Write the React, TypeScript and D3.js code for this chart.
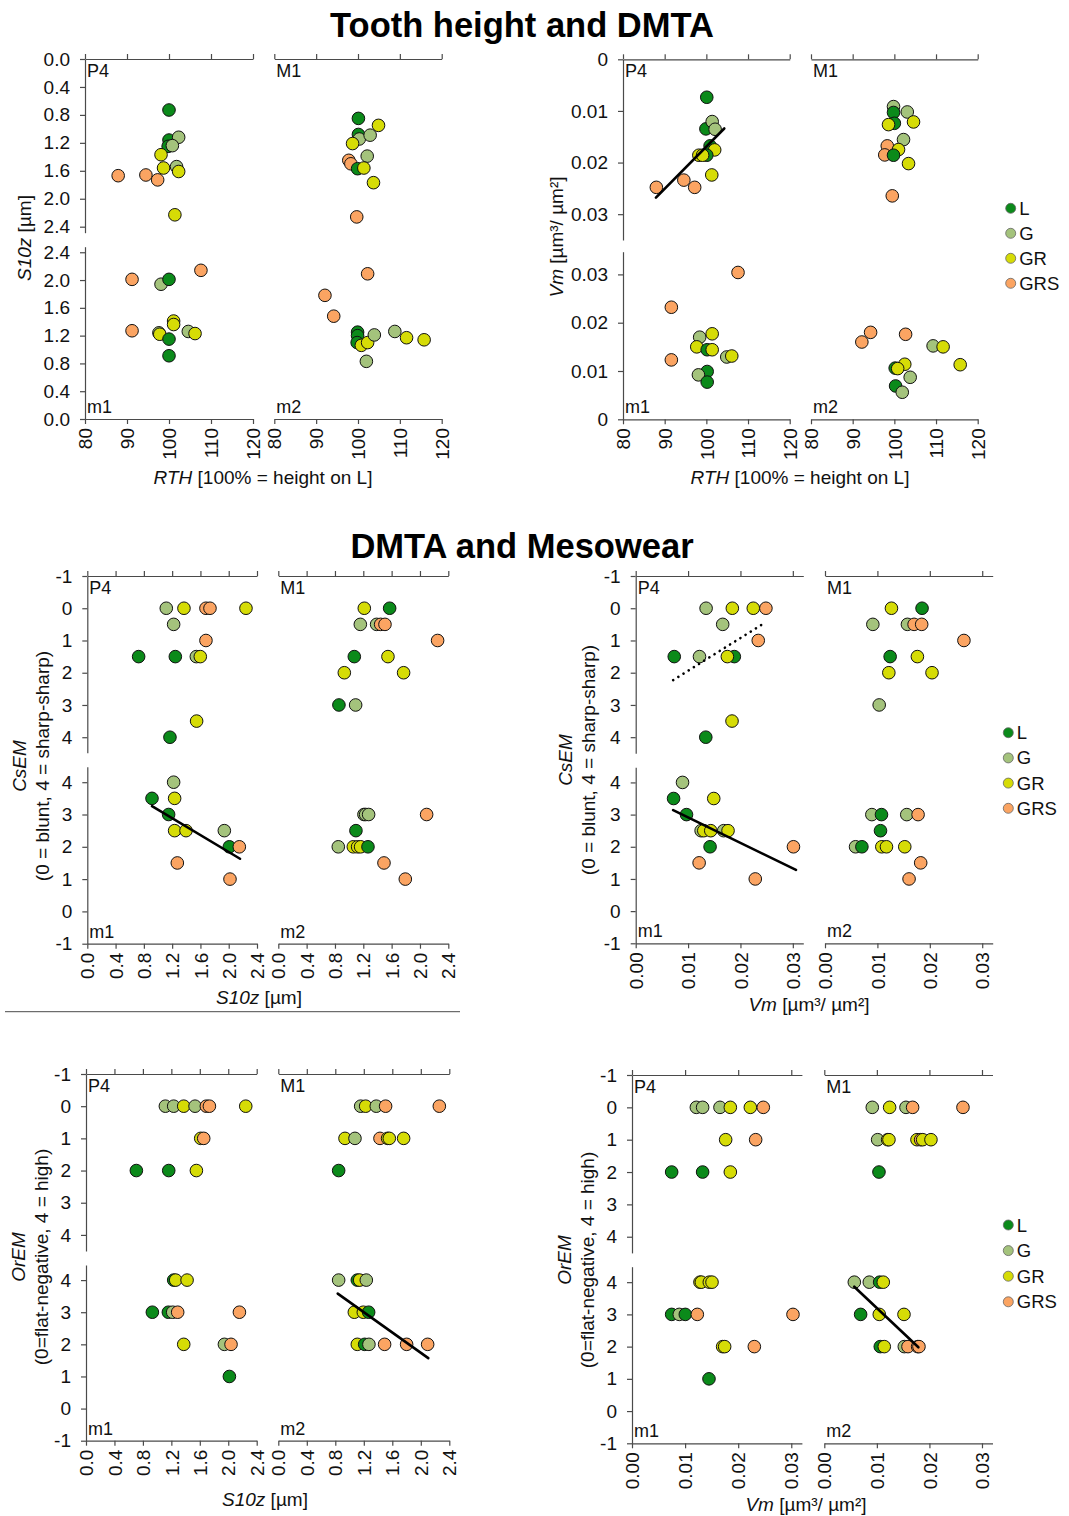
import React, { useEffect, useRef } from "react";
import * as d3 from "d3";

type Pt = [string, number, number];

const FONT = "'Liberation Sans', Arial, Helvetica, sans-serif";

const groups = ["L", "G", "GR", "GRS"];
const groupColors = ["#0b8a1a", "#a4c37c", "#d6dc06", "#fba462"];

const rthTicks = [80, 90, 100, 110, 120];
const s10zTicks = [0, 0.4, 0.8, 1.2, 1.6, 2.0, 2.4];
const vmTicks = [0, 0.01, 0.02, 0.03];
const scoreTicks = [-1, 0, 1, 2, 3, 4];

// RTH vs S10z
const rthS10zP4: Pt[] = [["L",100.0,0.73],["L",100.0,1.16],["L",99.8,1.25],["G",102.3,1.12],["G",100.8,1.24],["G",101.8,1.54],["GR",98.1,1.37],["GR",98.7,1.56],["GR",102.3,1.61],["GR",101.4,2.23],["GRS",87.9,1.67],["GRS",94.5,1.66],["GRS",97.3,1.73]];
const rthS10zM1: Pt[] = [["L",100.1,0.85],["L",100.1,1.08],["G",100.3,1.145],["G",102.9,1.09],["GR",104.9,0.95],["GR",98.7,1.21],["G",102.2,1.39],["GRS",97.8,1.45],["GRS",98.3,1.5],["L",99.9,1.57],["GR",101.4,1.56],["GR",103.7,1.77],["GRS",99.7,2.26]];
const rthS10zm1: Pt[] = [["GRS",91.2,2.01],["GRS",91.2,1.27],["G",98.1,1.94],["L",100.0,2.01],["GRS",107.6,2.14],["G",97.6,1.24],["GR",97.8,1.22],["GR",101.1,1.41],["GR",101.1,1.36],["L",100.0,1.15],["L",100.0,0.91],["G",104.6,1.26],["GR",106.2,1.23]];
const rthS10zm2: Pt[] = [["GRS",92.1,1.78],["GRS",94.2,1.48],["GRS",102.3,2.09],["L",99.9,1.25],["L",99.9,1.2],["L",99.8,1.1],["GR",100.8,1.06],["GR",102.3,1.1],["G",103.9,1.21],["G",108.8,1.26],["GR",111.6,1.17],["GR",115.8,1.14],["G",102.0,0.83]];

// RTH vs Vm
const rthVmP4: Pt[] = [["L",100.1,0.00735],["L",99.9,0.01348],["G",101.4,0.01206],["G",102.1,0.01355],["L",100.9,0.01677],["GR",102.0,0.01755],["L",100.1,0.01858],["GR",98.2,0.01858],["GR",99.1,0.01858],["GR",101.3,0.0224],["GRS",88.0,0.0248],["GRS",94.6,0.0234],["GRS",97.2,0.0248]];
const rthVmM1: Pt[] = [["G",99.8,0.00916],["L",99.8,0.0103],["G",103.1,0.0102],["L",100.0,0.0124],["GR",98.6,0.01265],["GR",104.6,0.01213],["G",102.2,0.01555],["GRS",98.3,0.01677],["GR",101.0,0.01748],["GRS",97.7,0.01852],["L",99.8,0.01858],["GR",103.4,0.0202],["GRS",99.5,0.02645]];
const rthVmm1: Pt[] = [["GRS",107.6,0.0304],["GRS",91.6,0.0232],["GRS",91.6,0.0123],["G",98.4,0.017],["GR",101.4,0.0177],["GR",97.7,0.015],["L",100.2,0.0144],["GR",101.4,0.0144],["G",104.9,0.0129],["GR",106.1,0.0131],["L",100.2,0.0099],["G",98.1,0.0092],["L",100.2,0.0077]];
const rthVmm2: Pt[] = [["GRS",92.2,0.016],["GRS",94.3,0.018],["GRS",102.7,0.0176],["G",109.3,0.0152],["GR",111.7,0.015],["GR",115.8,0.0113],["GR",102.5,0.0114],["L",100.2,0.0106],["GR",100.8,0.0105],["G",103.8,0.0087],["L",100.3,0.0069],["G",101.9,0.0056]];

// S10z vs CsEM
const s10zCsP4: Pt[] = [["G",1.117,0],["GR",1.367,0],["GRS",1.678,0],["GRS",1.735,0],["GR",2.244,0],["G",1.221,0.5],["GRS",1.678,1],["L",0.726,1.5],["L",1.245,1.5],["G",1.542,1.5],["GR",1.598,1.5],["GR",1.546,3.5],["L",1.169,4]];
const s10zCsM1: Pt[] = [["GR",1.214,0],["L",1.572,0],["G",1.158,0.5],["G",1.388,0.5],["GRS",1.445,0.5],["GRS",1.506,0.5],["GRS",2.249,1],["L",1.073,1.5],["GR",1.548,1.5],["GR",0.932,2],["GR",1.769,2],["L",0.856,3],["G",1.092,3]];
const s10zCsm1: Pt[] = [["G",1.221,4],["L",0.915,3.5],["GR",1.235,3.5],["L",1.15,3],["GR",1.235,2.5],["GR",1.396,2.5],["G",1.938,2.5],["L",2.009,2],["GRS",2.15,2],["GRS",1.273,1.5],["GRS",2.018,1]];
const s10zCsm2: Pt[] = [["G",1.209,3],["G",1.233,3],["G",1.275,3],["GRS",2.094,3],["L",1.096,2.5],["G",0.847,2],["GR",1.059,2],["GR",1.12,2],["GR",1.162,2],["L",1.266,2],["GRS",1.492,1.5],["GRS",1.793,1]];

// Vm vs CsEM
const vmCsP4: Pt[] = [["G",0.01344,0],["GR",0.01845,0],["GR",0.02245,0],["GRS",0.02486,0],["G",0.01661,0.5],["GRS",0.0234,1],["L",0.00736,1.5],["G",0.01218,1.5],["L",0.01883,1.5],["GR",0.0175,1.5],["GR",0.01839,3.5],["L",0.01338,4]];
const vmCsM1: Pt[] = [["GR",0.01268,0],["L",0.01852,0],["G",0.00913,0.5],["G",0.01573,0.5],["GRS",0.017,0.5],["GRS",0.01845,0.5],["GRS",0.02651,1],["L",0.01243,1.5],["GR",0.01763,1.5],["GR",0.01218,2],["GR",0.02042,2],["G",0.01034,3]];
const vmCsm1: Pt[] = [["G",0.00894,4],["L",0.00723,3.5],["GR",0.0149,3.5],["L",0.0097,3],["G",0.01249,2.5],["GR",0.013,2.5],["GR",0.01433,2.5],["G",0.0168,2.5],["GR",0.01763,2.5],["L",0.0142,2],["GRS",0.03012,2],["GRS",0.01211,1.5],["GRS",0.02283,1]];
const vmCsm2: Pt[] = [["G",0.00894,3],["L",0.01078,3],["G",0.0156,3],["GRS",0.01776,3],["L",0.01059,2.5],["G",0.00583,2],["L",0.00704,2],["GR",0.01084,2],["GR",0.01173,2],["GR",0.01522,2],["GRS",0.01826,1.5],["GRS",0.01604,1]];

// S10z vs OrEM
const s10zOrP4: Pt[] = [["G",1.116,0],["G",1.233,0],["GR",1.374,0],["G",1.533,0],["GRS",1.692,0],["GRS",1.735,0],["GR",2.246,0],["GR",1.613,1],["GRS",1.655,1],["L",0.708,2],["L",1.163,2],["GR",1.552,2]];
const s10zOrM1: Pt[] = [["G",1.156,0],["GR",1.226,0],["G",1.375,0],["GRS",1.506,0],["GRS",2.26,0],["GR",0.936,1],["G",1.076,1],["GRS",1.427,1],["GR",1.534,1],["GR",1.558,1],["GR",1.759,1],["L",0.847,2]];
const s10zOrm1: Pt[] = [["L",1.233,4],["GR",1.261,4],["GR",1.421,4],["L",0.933,3],["L",1.158,3],["G",1.219,3],["GRS",1.289,3],["GRS",2.157,3],["GR",1.374,2],["G",1.946,2],["GRS",2.039,2],["L",2.016,1]];
const s10zOrm2: Pt[] = [["G",0.847,4],["L",1.109,4],["GR",1.142,4],["G",1.235,4],["GR",1.067,3],["GR",1.193,3],["L",1.268,3],["GR",1.109,2],["L",1.212,2],["G",1.272,2],["GRS",1.492,2],["GRS",1.801,2],["GRS",2.096,2]];

// Vm vs OrEM
const vmOrP4: Pt[] = [["G",0.01212,0],["G",0.0133,0],["G",0.01657,0],["GR",0.01852,0],["GR",0.02229,0],["GRS",0.02473,0],["GR",0.01764,1],["GRS",0.02329,1],["L",0.00747,2],["L",0.0133,2],["GR",0.01852,2]];
const vmOrM1: Pt[] = [["G",0.00913,0],["GR",0.01243,0],["G",0.01554,0],["GRS",0.0168,0],["GRS",0.02638,0],["G",0.01015,1],["GR",0.01205,1],["GR",0.0123,1],["GR",0.01763,1],["GRS",0.01833,1],["GR",0.01871,1],["GR",0.02029,1],["L",0.0104,2]];
const vmOrm1: Pt[] = [["GR",0.0128,4],["GR",0.01306,4],["GR",0.01456,4],["GR",0.01507,4],["L",0.00747,3],["G",0.00891,3],["L",0.01004,3],["GRS",0.0123,3],["GRS",0.03032,3],["GR",0.01707,2],["GR",0.01745,2],["GRS",0.02304,2],["L",0.0145,1]];
const vmOrm2: Pt[] = [["G",0.00571,4],["G",0.00856,4],["L",0.01053,4],["GR",0.01122,4],["L",0.00691,3],["GR",0.01046,3],["GR",0.01516,3],["L",0.01065,2],["GR",0.01141,2],["G",0.01522,2],["GRS",0.01592,2],["GRS",0.01776,2],["GRS",0.01801,2]];

// fitted trend lines (endpoints in data units)
const trendRthVmP4 = [[87.9, 0.0268], [104.3, 0.0134]];
const trendS10zCsm1 = [[0.915, 3.26], [2.16, 1.63]];
const trendVmCsP4 = [[0.00715, 2.23], [0.02426, 0.49]];
const trendVmCsm1 = [[0.00715, 3.14], [0.0306, 1.28]];
const trendS10zOrm2 = [[0.834, 3.58], [2.105, 1.57]];
const trendVmOrm2 = [[0.0057, 3.86], [0.0179, 1.98]];

const fmt1 = d3.format(".1f");
const fmt2 = d3.format(".2f");
const fmtVmY = (v: number) => (v === 0 ? "0" : fmt2(v));

const blocks: any[] = [
  {
    xDomain: [80, 120], xTicks: rthTicks, xFmt: String,
    xLeft: [85, 253], xRight: [274.3, 441.7],
    yTicks: s10zTicks, yFmt: fmt1,
    yTop: [[0, 2.486], [59, 232.7]], yBot: [[0, 2.48], [419, 246.7]],
    data: { P4: rthS10zP4, M1: rthS10zM1, m1: rthS10zm1, m2: rthS10zm2 },
    lines: [],
    yTitle: { x: 31, y: 238, lines: [[["S10z", true], [" [µm]", false]]] },
    xTitle: { x: 263, y: 484, parts: [["RTH", true], [" [100% = height on L]", false]] },
  },
  {
    xDomain: [80, 120], xTicks: rthTicks, xFmt: String,
    xLeft: [623, 789.7], xRight: [811, 977.7],
    yTicks: vmTicks, yFmt: fmtVmY,
    yTop: [[0, 0.035], [59.3, 240]], yBot: [[0, 0.0347], [419.3, 251.7]],
    data: { P4: rthVmP4, M1: rthVmM1, m1: rthVmm1, m2: rthVmm2 },
    lines: [{ panel: "P4", pts: trendRthVmP4, dotted: false }],
    yTitle: { x: 563, y: 237, lines: [[["Vm", true], [" [µm³/ µm²]", false]]] },
    xTitle: { x: 800, y: 484, parts: [["RTH", true], [" [100% = height on L]", false]] },
    legend: { x: 1010.7, y: 208.3, step: 25 },
  },
  {
    xDomain: [0, 2.4], xTicks: s10zTicks, xFmt: fmt1,
    xLeft: [87.3, 257], xRight: [278.3, 448.3],
    yTicks: scoreTicks, yFmt: String,
    yTop: [[-1, 4.48], [576, 752.7]], yBot: [[-1, 4.48], [943.7, 766.7]],
    data: { P4: s10zCsP4, M1: s10zCsM1, m1: s10zCsm1, m2: s10zCsm2 },
    lines: [{ panel: "m1", pts: trendS10zCsm1, dotted: false }],
    yTitle: { x: 26, y: 766, lines: [[["CsEM", true]], [["(0 = blunt, 4 = sharp-sharp)", false]]] },
    xTitle: { x: 259, y: 1004, parts: [["S10z", true], [" [µm]", false]] },
  },
  {
    xDomain: [0, 0.032], xTicks: vmTicks, xFmt: fmt2,
    xLeft: [635.7, 803.3], xRight: [825, 992.7],
    yTicks: scoreTicks, yFmt: String,
    yTop: [[-1, 4.5], [576, 753.3]], yBot: [[-1, 4.47], [943.3, 767.3]],
    data: { P4: vmCsP4, M1: vmCsM1, m1: vmCsm1, m2: vmCsm2 },
    lines: [{ panel: "P4", pts: trendVmCsP4, dotted: true }, { panel: "m1", pts: trendVmCsm1, dotted: false }],
    yTitle: { x: 572, y: 760, lines: [[["CsEM", true]], [["(0 = blunt, 4 = sharp-sharp)", false]]] },
    xTitle: { x: 809, y: 1011, parts: [["Vm", true], [" [µm³/ µm²]", false]] },
    legend: { x: 1008.3, y: 732.7, step: 25.2 },
  },
  {
    xDomain: [0, 2.4], xTicks: s10zTicks, xFmt: fmt1,
    xLeft: [86, 256.7], xRight: [278.3, 449.3],
    yTicks: scoreTicks, yFmt: String,
    yTop: [[-1, 4.5], [1074, 1251]], yBot: [[-1, 4.47], [1440.7, 1265]],
    data: { P4: s10zOrP4, M1: s10zOrM1, m1: s10zOrm1, m2: s10zOrm2 },
    lines: [{ panel: "m2", pts: trendS10zOrm2, dotted: false }],
    yTitle: { x: 25, y: 1257, lines: [[["OrEM", true]], [["(0=flat-negative, 4 = high)", false]]] },
    xTitle: { x: 265, y: 1506, parts: [["S10z", true], [" [µm]", false]] },
  },
  {
    xDomain: [0, 0.032], xTicks: vmTicks, xFmt: fmt2,
    xLeft: [632, 801.9], xRight: [824.3, 992.5],
    yTicks: scoreTicks, yFmt: String,
    yTop: [[-1, 4.5], [1075, 1252.9]], yBot: [[-1, 4.48], [1443.3, 1266.7]],
    data: { P4: vmOrP4, M1: vmOrM1, m1: vmOrm1, m2: vmOrm2 },
    lines: [{ panel: "m2", pts: trendVmOrm2, dotted: false }],
    yTitle: { x: 571, y: 1260, lines: [[["OrEM", true]], [["(0=flat-negative, 4 = high)", false]]] },
    xTitle: { x: 806, y: 1511, parts: [["Vm", true], [" [µm³/ µm²]", false]] },
    legend: { x: 1008.3, y: 1225, step: 25.6 },
  },
];

const AXIS = "#4a4a4a";
const TICK_FS = 19;
const TITLE_FS = 19;

function styleAxis(g: any) {
  g.attr("font-family", FONT).attr("font-size", TICK_FS);
  g.select(".domain").attr("stroke", AXIS).attr("stroke-width", 1.2);
  g.selectAll(".tick line").attr("stroke", AXIS).attr("stroke-width", 1.2);
  g.selectAll(".tick text").attr("fill", "#111");
}

function addParts(t: any, parts: any[]) {
  parts.forEach(([s, it]: [string, boolean]) => {
    t.append("tspan").attr("font-style", it ? "italic" : "normal").text(s);
  });
}

function drawBlock(svg: any, b: any) {
  const color = d3.scaleOrdinal<string, string>().domain(groups).range(groupColors);
  const xL = d3.scaleLinear().domain(b.xDomain).range(b.xLeft);
  const xR = d3.scaleLinear().domain(b.xDomain).range(b.xRight);
  const yT = d3.scaleLinear().domain(b.yTop[0]).range(b.yTop[1]);
  const yB = d3.scaleLinear().domain(b.yBot[0]).range(b.yBot[1]);

  // y axes (left panels only)
  [yT, yB].forEach((y) => {
    svg
      .append("g")
      .attr("transform", `translate(${b.xLeft[0]},0)`)
      .call(d3.axisLeft(y).tickValues(b.yTicks).tickFormat(b.yFmt).tickSize(5).tickSizeOuter(0).tickPadding(10))
      .call(styleAxis);
  });

  // x axes: top axes without labels, bottom axes with rotated labels
  [xL, xR].forEach((x) => {
    svg
      .append("g")
      .attr("transform", `translate(0,${b.yTop[1][0]})`)
      .call(d3.axisTop(x).tickValues(b.xTicks).tickFormat(() => "").tickSize(5).tickSizeOuter(0))
      .call(styleAxis);

    const gb = svg
      .append("g")
      .attr("transform", `translate(0,${b.yBot[1][0]})`)
      .call(d3.axisBottom(x).tickValues(b.xTicks).tickFormat(b.xFmt).tickSize(5).tickSizeOuter(0))
      .call(styleAxis);
    gb.selectAll(".tick text")
      .attr("y", 0)
      .attr("x", -9)
      .attr("dy", "0.35em")
      .attr("transform", "rotate(-90)")
      .attr("text-anchor", "end");
  });

  const panels = [
    { key: "P4", x: xL, y: yT, top: true },
    { key: "M1", x: xR, y: yT, top: true },
    { key: "m1", x: xL, y: yB, top: false },
    { key: "m2", x: xR, y: yB, top: false },
  ];

  panels.forEach((p) => {
    const x0 = p.x.range()[0];
    const ly = p.top ? p.y.range()[0] + 18 : p.y.range()[0] - 6;
    svg
      .append("text")
      .attr("x", x0 + 2)
      .attr("y", ly)
      .attr("font-family", FONT)
      .attr("font-size", 18)
      .attr("fill", "#111")
      .text(p.key);

    svg
      .append("g")
      .selectAll("circle")
      .data(b.data[p.key])
      .join("circle")
      .attr("cx", (d: Pt) => p.x(d[1]))
      .attr("cy", (d: Pt) => p.y(d[2]))
      .attr("r", 6.3)
      .attr("fill", (d: Pt) => color(d[0]))
      .attr("stroke", "#111")
      .attr("stroke-width", 1);

    b.lines
      .filter((l: any) => l.panel === p.key)
      .forEach((l: any) => {
        const line = d3
          .line<number[]>()
          .x((d) => p.x(d[0]))
          .y((d) => p.y(d[1]));
        svg
          .append("path")
          .datum(l.pts)
          .attr("d", line)
          .attr("fill", "none")
          .attr("stroke", "#000")
          .attr("stroke-width", 2.6)
          .attr("stroke-linecap", "round")
          .attr("stroke-dasharray", l.dotted ? "0.1,6" : null);
      });
  });

  // y title (one or two rotated lines)
  b.yTitle.lines.forEach((parts: any[], i: number) => {
    const t = svg
      .append("text")
      .attr("transform", `translate(${b.yTitle.x + i * 23},${b.yTitle.y}) rotate(-90)`)
      .attr("text-anchor", "middle")
      .attr("font-family", FONT)
      .attr("font-size", TITLE_FS)
      .attr("fill", "#111");
    addParts(t, parts);
  });

  const xt = svg
    .append("text")
    .attr("x", b.xTitle.x)
    .attr("y", b.xTitle.y)
    .attr("text-anchor", "middle")
    .attr("font-family", FONT)
    .attr("font-size", TITLE_FS)
    .attr("fill", "#111");
  addParts(xt, b.xTitle.parts);

  if (b.legend) {
    const lg = svg.append("g");
    groups.forEach((k, i) => {
      const cy = b.legend.y + i * b.legend.step;
      lg.append("circle")
        .attr("cx", b.legend.x)
        .attr("cy", cy)
        .attr("r", 5)
        .attr("fill", color(k))
        .attr("stroke", "#666")
        .attr("stroke-width", 0.8);
      lg.append("text")
        .attr("x", b.legend.x + 8.5)
        .attr("y", cy + 6.5)
        .attr("font-family", FONT)
        .attr("font-size", 18.5)
        .attr("fill", "#111")
        .text(k);
    });
  }
}

export default function App() {
  const svgRef = useRef<SVGSVGElement | null>(null);

  useEffect(() => {
    const svg = d3.select(svgRef.current);
    svg.selectAll("*").remove();

    svg.append("rect").attr("width", 1069).attr("height", 1516).attr("fill", "#fff");

    const titles = [
      { text: "Tooth height and DMTA", y: 37 },
      { text: "DMTA and Mesowear", y: 558 },
    ];
    titles.forEach((t) => {
      svg
        .append("text")
        .attr("x", 522)
        .attr("y", t.y)
        .attr("text-anchor", "middle")
        .attr("font-family", FONT)
        .attr("font-weight", "bold")
        .attr("font-size", 34.5)
        .attr("fill", "#000")
        .text(t.text);
    });

    blocks.forEach((b) => drawBlock(svg, b));

    // thin separator under the middle-left block
    svg
      .append("line")
      .attr("x1", 5)
      .attr("x2", 460)
      .attr("y1", 1011.7)
      .attr("y2", 1011.7)
      .attr("stroke", AXIS)
      .attr("stroke-width", 1);
  }, []);

  return (
    <svg
      ref={svgRef}
      width={1069}
      height={1516}
      style={{ position: "absolute", left: 0, top: 0 }}
    />
  );
}
